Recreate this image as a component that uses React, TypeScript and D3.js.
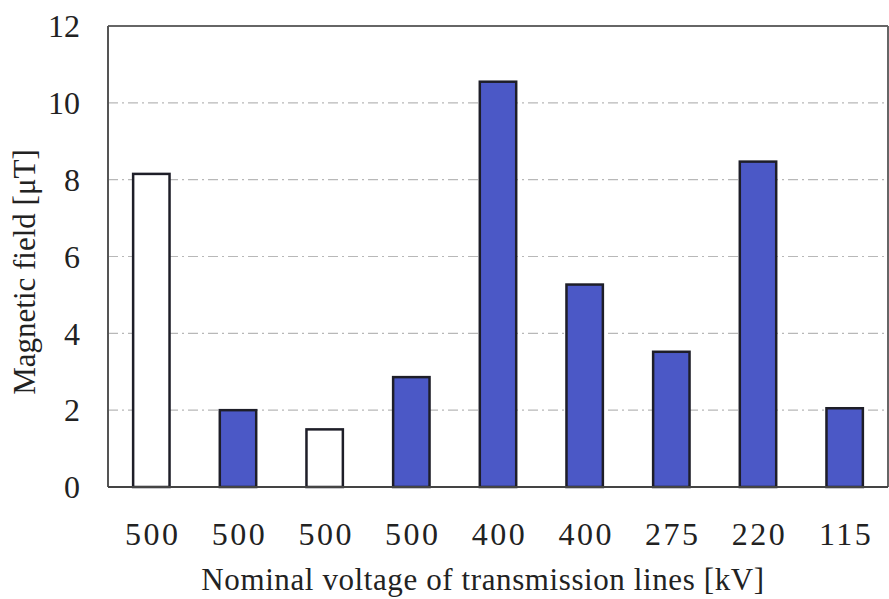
import * as d3 from "d3";

// values
const voltages = ["500", "500", "500", "500", "400", "400", "275", "220", "115"];
const fields = [8.15, 2.0, 1.5, 2.86, 10.55, 5.27, 3.52, 8.47, 2.05];
const hollow = [true, false, true, false, false, false, false, false, false];
const yTicks = [0, 2, 4, 6, 8, 10, 12];

const W = 889;
const H = 599;
const margin = { left: 108, right: 1, top: 26, bottom: 112 };
const font = "Liberation Serif, Times New Roman, serif";

export default function App() {
    const innerW = W - margin.left - margin.right;
    const innerH = H - margin.top - margin.bottom;

    const x = d3.scaleBand()
        .domain(voltages.map((_, i) => String(i)))
        .range([0, innerW])
        .paddingInner(0.58)
        .paddingOuter(0.29);

    const y = d3.scaleLinear()
        .domain([0, 12])
        .range([innerH, 0]);

    return (
        <svg width={W} height={H}
             style={{ position: "absolute", left: 0, top: 0, background: "#fff", fontFamily: font }}>
            <g transform={`translate(${margin.left},${margin.top})`}>
                {/* grid */}
                {yTicks.filter(t => t > 0 && t < 12).map(t => (
                    <line key={t} x1={0} x2={innerW} y1={y(t)} y2={y(t)}
                          stroke="#b8b8b8" strokeWidth={1.2}
                          strokeDasharray="10,4,2,4" />
                ))}
                {/* frame */}
                <line x1={0} x2={innerW} y1={y(12)} y2={y(12)} stroke="#666" strokeWidth={2} />
                <line x1={innerW} x2={innerW} y1={y(12)} y2={y(0)} stroke="#666" strokeWidth={2} />
                <line x1={0} x2={0} y1={y(12)} y2={y(0)} stroke="#555" strokeWidth={2} />

                {/* bars */}
                {fields.map((v, i) => (
                    <rect key={i}
                          x={x(String(i))}
                          y={y(v)}
                          width={x.bandwidth()}
                          height={innerH - y(v)}
                          fill={hollow[i] ? "#fff" : "#4b58c6"}
                          stroke="#1e1e28"
                          strokeWidth={2.5} />
                ))}

                <line x1={0} x2={innerW} y1={y(0)} y2={y(0)} stroke="#444" strokeWidth={2} />

                {/* y tick labels */}
                {yTicks.map(t => (
                    <text key={t} x={-28} y={y(t)} dy="0.35em" textAnchor="end"
                          style={{ fontFamily: font }} fontSize={32} fill="#222">{t}</text>
                ))}

                {/* x tick labels */}
                {voltages.map((v, i) => (
                    <text key={i} x={(x(String(i)) ?? 0) + x.bandwidth() / 2 + 1.5} y={innerH + 58}
                          textAnchor="middle" style={{ fontFamily: font }} fontSize={32}
                          letterSpacing={2.5} fill="#222">{v}</text>
                ))}
            </g>

            <text x={483} y={590} textAnchor="middle"
                  style={{ fontFamily: font }} fontSize={31} letterSpacing={0.6} fill="#222">
                Nominal voltage of transmission lines [kV]
            </text>
            <text transform={`translate(35,${272}) rotate(-90)`} textAnchor="middle"
                  style={{ fontFamily: font }} fontSize={31} fill="#222">
                Magnetic field [μT]
            </text>
        </svg>
    );
}
